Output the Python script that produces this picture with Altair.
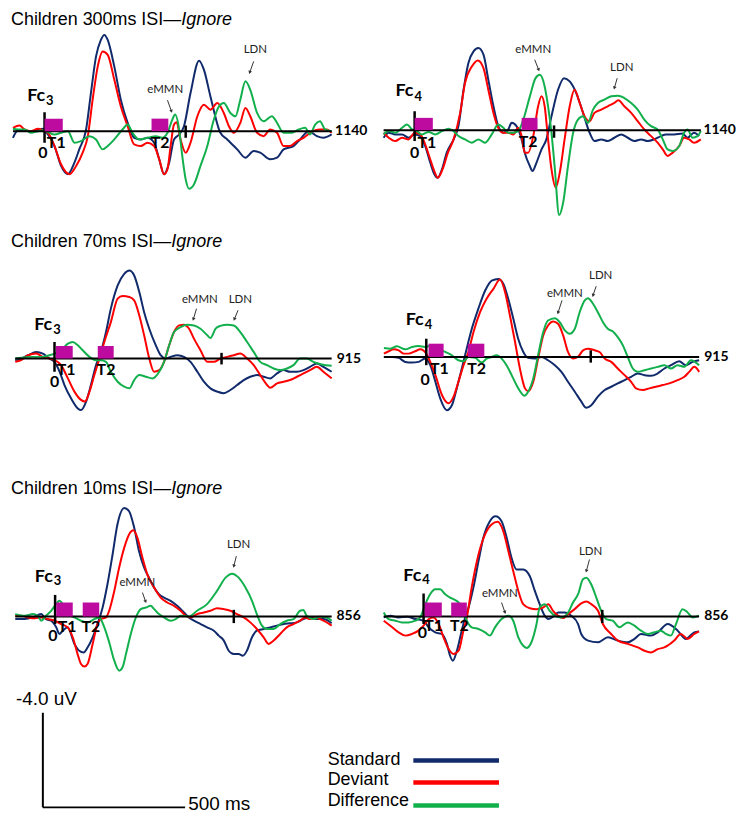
import math
import altair as alt
import pandas as pd

# ---------------- layout constants ----------------
MS_PER_PX = 3.5
PX_PER_UV = 23.75
PANEL_W = 364
SERIES = ["Standard", "Deviant", "Difference"]
COLORS = ["#102a6b", "#ff0000", "#12b04c"]
MAGENTA = "#bd0ba0"
SANS = "Liberation Sans, Arial, sans-serif"
LBL = "Lato, Carlito, sans-serif"

# ---------------- data (time ms, amplitude uV; negative plotted up) ----------------
A_std = [(-111,0.28),(-93,-0.04),(-70,-0.04),(-47,0.04),(-23,-0.04),(-6,-0.10),(12,0.14),(35,0.63),(58,1.47),(82,1.82),(105,1.33),(122,0.77),(146,-0.07),(163,-1.61),(181,-3.16),(198,-3.86),(210,-4.07),(222,-3.86),(245,-2.74),(268,-1.33),(292,-0.35),(315,0.28),(338,0.35),(362,0.28),(385,0.49),(403,1.19),(420,1.82),(438,1.33),(455,0.35),(473,0.14),(490,-0.21),(513,-1.61),(543,-2.98),(560,-2.60),(583,-1.47),(618,0.07),(642,0.35),(677,0.77),(706,1.12),(735,0.84),(758,0.91),(793,1.19),(817,1.12),(840,0.77),(875,0.63),(898,0.35),(928,0.00),(957,0.21),(980,0.28),(1009,0.14)]
A_dev = [(-111,-0.14),(-88,-0.24),(-70,-0.07),(-47,0.00),(-23,-0.10),(-6,-0.04),(12,0.07),(35,0.63),(58,1.40),(88,1.82),(111,1.47),(134,0.91),(152,0.21),(169,-1.33),(187,-2.74),(204,-3.37),(222,-3.23),(245,-2.18),(268,-1.05),(292,-0.21),(315,0.56),(338,0.63),(362,0.49),(385,0.63),(403,1.19),(420,1.82),(432,1.61),(443,0.63),(455,-0.28),(464,-0.38),(478,0.35),(496,0.91),(513,0.49),(537,-0.63),(560,-1.12),(583,-0.91),(607,-1.19),(630,-0.77),(648,-0.21),(665,0.07),(688,-0.35),(706,-0.98),(723,-0.63),(747,0.07),(770,0.21),(793,-0.07),(817,0.07),(840,0.63),(863,0.63),(887,0.42),(910,0.28),(933,0.07),(968,-0.07),(992,-0.07),(1009,0.07)]
A_diff = [(-111,-0.10),(-93,-0.07),(-70,-0.07),(-47,0.07),(-23,0.00),(-6,-0.04),(12,0.04),(35,0.14),(58,0.07),(82,0.00),(105,0.49),(128,0.42),(158,0.21),(181,0.35),(204,0.77),(222,0.63),(245,0.35),(274,-0.07),(292,-0.28),(309,0.07),(332,0.35),(362,0.28),(391,0.21),(414,0.28),(432,0.07),(449,-0.49),(459,-0.70),(473,-0.07),(484,1.05),(496,2.04),(508,2.43),(525,2.25),(548,1.47),(572,0.63),(595,-0.49),(613,-1.05),(630,-1.19),(653,-0.77),(671,-0.63),(688,-1.33),(706,-2.11),(723,-1.75),(747,-0.77),(770,-0.42),(799,-0.63),(817,-0.35),(840,0.07),(869,0.07),(893,-0.07),(916,-0.14),(933,0.14),(951,-0.28),(968,-0.42),(986,-0.07),(1009,0.00)]

B_std = [(-109,0.32),(-91,0.11),(-68,0.18),(-44,0.18),(-21,0.32),(0,0.18),(20,0.25),(37,0.67),(55,1.38),(67,1.80),(81,2.01),(96,1.66),(113,0.95),(137,0.39),(154,-0.17),(172,-1.71),(189,-2.84),(207,-3.33),(224,-3.47),(242,-3.19),(259,-2.13),(277,-1.01),(294,-0.17),(312,0.11),(329,-0.03),(341,-0.31),(358,-0.17),(376,0.39),(387,0.95),(405,1.52),(414,1.73),(428,1.38),(446,0.81),(463,0.39),(481,-0.59),(504,-1.71),(525,-2.20),(545,-2.06),(568,-1.57),(592,-0.73),(615,0.11),(632,0.46),(656,0.39),(679,0.46),(702,0.32),(726,0.18),(749,0.32),(772,0.46),(796,0.39),(819,0.46),(842,0.39),(866,0.25),(883,0.18),(912,0.18),(942,0.14),(959,0.32),(982,0.11),(1000,0.25)]
B_dev = [(-109,0.11),(-91,0.32),(-68,0.46),(-44,0.32),(-21,0.39),(0,0.11),(20,0.18),(37,0.60),(55,1.24),(69,1.73),(82,2.01),(98,1.66),(117,0.95),(137,0.39),(160,-0.73),(177,-1.99),(201,-2.69),(222,-2.95),(242,-2.62),(259,-1.71),(277,-0.73),(294,-0.10),(312,0.11),(329,0.11),(347,0.18),(364,-0.10),(376,0.25),(387,0.95),(399,0.95),(417,0.25),(434,-1.01),(446,-1.43),(457,-1.01),(469,0.39),(481,1.66),(496,2.43),(510,1.80),(527,0.39),(545,-1.01),(562,-1.71),(580,-1.15),(597,-0.59),(615,-0.38),(632,-0.73),(656,-0.87),(679,-1.01),(702,-1.15),(716,-1.26),(737,-1.01),(761,-0.73),(784,-0.38),(807,-0.03),(831,0.25),(854,0.53),(872,0.81),(889,1.09),(907,0.95),(930,0.67),(947,0.32),(965,0.39),(982,0.53),(1006,0.39)]
B_diff = [(-109,0.18),(-91,0.04),(-68,0.11),(-44,-0.10),(-27,-0.24),(-9,-0.03),(8,0.04),(26,0.18),(49,0.08),(72,0.18),(96,0.04),(119,-0.06),(137,0.04),(154,0.25),(177,0.39),(201,0.53),(224,0.39),(247,0.53),(271,0.18),(294,-0.24),(312,-0.10),(329,0.11),(347,0.11),(364,0.04),(382,-0.45),(405,-1.43),(425,-2.20),(440,-2.34),(457,-1.85),(469,-1.01),(481,0.11),(492,1.52),(508,3.59),(522,3.06),(539,1.52),(557,0.11),(574,-0.45),(592,-0.59),(609,-0.31),(627,-0.87),(644,-1.15),(667,-1.29),(691,-1.43),(714,-1.46),(737,-1.36),(761,-1.15),(784,-0.87),(807,-0.45),(831,-0.17),(854,-0.03),(872,0.39),(889,0.81),(907,0.88),(930,0.67),(947,0.11),(959,-0.03),(977,0.32),(994,0.25),(1006,0.04)]

C_std = [(-138,0.07),(-117,0.00),(-93,-0.14),(-64,-0.28),(-41,-0.21),(-18,0.00),(0,0.14),(18,0.56),(35,1.12),(58,1.68),(82,2.11),(93,2.18),(111,1.82),(128,1.12),(146,0.28),(163,-0.28),(181,-1.12),(198,-2.11),(222,-3.09),(245,-3.58),(263,-3.72),(280,-3.51),(298,-2.81),(315,-1.96),(333,-1.26),(356,-0.56),(373,-0.14),(391,0.00),(408,-0.07),(432,-0.14),(455,-0.07),(478,0.14),(502,0.56),(525,0.98),(548,1.26),(572,1.40),(595,1.47),(618,1.33),(642,1.12),(665,0.91),(688,0.77),(712,0.70),(735,0.77),(758,0.84),(782,0.63),(805,0.49),(828,0.56),(852,0.56),(875,0.49),(898,0.35),(922,0.21),(945,0.35),(974,0.56)]
C_dev = [(-138,0.14),(-117,0.07),(-93,-0.14),(-64,-0.21),(-41,-0.07),(-18,0.00),(0,0.07),(23,0.28),(47,0.84),(70,1.40),(93,1.75),(107,1.82),(123,1.40),(140,0.70),(158,0.00),(175,-0.70),(198,-1.54),(222,-2.53),(239,-2.64),(263,-2.60),(280,-2.46),(298,-1.82),(315,-0.98),(333,0.00),(350,0.56),(368,0.49),(385,0.14),(403,-0.56),(420,-1.12),(438,-1.40),(455,-1.43),(473,-1.26),(490,-0.84),(513,-0.35),(537,0.14),(560,0.14),(583,0.00),(607,-0.07),(630,-0.14),(653,-0.21),(677,0.00),(700,0.28),(723,0.70),(747,1.12),(758,1.24),(782,1.05),(805,0.98),(828,0.91),(852,0.77),(875,0.63),(898,0.49),(922,0.35),(945,0.56),(974,0.84)]
C_diff = [(-138,0.00),(-117,-0.03),(-93,-0.07),(-70,-0.07),(-41,-0.07),(-18,-0.14),(0,-0.21),(23,-0.35),(47,-0.63),(64,-0.70),(82,-0.56),(99,-0.35),(123,-0.07),(146,0.07),(163,0.07),(181,0.14),(198,0.56),(222,0.98),(245,1.19),(263,1.26),(280,0.91),(298,0.70),(321,0.77),(344,0.84),(368,0.56),(385,0.14),(403,-0.56),(420,-1.12),(443,-1.33),(467,-1.43),(490,-1.40),(513,-1.26),(537,-0.98),(548,-0.87),(566,-1.26),(583,-1.38),(607,-1.43),(630,-1.40),(653,-1.12),(677,-0.70),(700,-0.28),(723,0.14),(747,0.28),(770,0.42),(793,0.49),(817,0.42),(840,0.28),(863,0.00),(887,0.00),(910,0.14),(939,0.25),(974,0.31)]

D_std = [(-149,0.00),(-120,0.00),(-97,0.04),(-74,0.21),(-50,0.24),(-27,0.21),(-4,0.07),(14,0.35),(32,1.05),(49,1.75),(72,2.25),(90,2.04),(107,1.33),(125,0.49),(142,-0.35),(160,-1.19),(183,-2.04),(207,-2.81),(230,-3.23),(253,-3.30),(271,-3.09),(288,-2.46),(306,-1.61),(323,-0.77),(341,-0.21),(358,0.04),(382,0.07),(405,0.00),(428,0.14),(452,0.35),(475,0.63),(498,1.05),(522,1.47),(545,1.89),(562,2.15),(580,2.04),(603,1.68),(627,1.40),(650,1.26),(673,1.12),(697,0.98),(720,0.84),(743,0.70),(767,0.77),(790,0.80),(813,0.70),(837,0.49),(860,0.35),(889,0.18),(912,0.35),(936,0.21),(959,0.14)]
D_dev = [(-149,-0.14),(-132,-0.24),(-114,-0.32),(-97,-0.28),(-79,-0.14),(-62,-0.14),(-39,-0.24),(-21,-0.32),(0,-0.14),(14,0.21),(32,0.77),(55,1.61),(78,1.96),(96,1.68),(113,1.05),(131,0.35),(148,-0.21),(166,-1.05),(189,-1.89),(212,-2.46),(236,-2.88),(259,-3.27),(277,-2.74),(294,-1.75),(312,-0.63),(329,0.49),(347,1.33),(358,1.45),(376,1.05),(393,0.07),(411,-0.91),(428,-1.33),(446,-1.50),(463,-1.40),(481,-0.91),(498,-0.21),(516,0.07),(533,0.00),(551,-0.28),(568,-0.35),(592,-0.28),(609,-0.21),(627,0.07),(650,0.21),(673,0.49),(697,0.77),(720,1.05),(737,1.33),(761,1.40),(784,1.33),(807,1.26),(831,1.19),(854,1.12),(883,0.98),(907,0.84),(924,0.63),(942,0.42),(959,0.63)]
D_diff = [(-149,-0.38),(-126,-0.35),(-103,-0.45),(-74,-0.32),(-50,-0.42),(-27,-0.46),(-4,-0.42),(20,-0.49),(43,-0.35),(67,-0.21),(90,-0.07),(113,0.14),(131,0.18),(148,0.00),(172,0.04),(195,0.24),(212,0.07),(230,0.00),(247,-0.07),(265,0.07),(282,0.35),(300,0.77),(317,1.19),(335,1.54),(344,1.64),(358,1.47),(376,0.91),(393,-0.07),(411,-1.05),(428,-1.54),(452,-1.64),(469,-1.47),(487,-1.12),(504,-0.98),(522,-1.19),(539,-1.89),(557,-2.39),(568,-2.48),(586,-2.25),(603,-1.89),(621,-1.47),(638,-1.19),(656,-1.08),(673,-0.84),(691,-0.49),(708,0.00),(726,0.49),(743,0.63),(767,0.56),(790,0.49),(813,0.42),(837,0.35),(860,0.49),(883,0.35),(907,0.42),(930,0.14),(959,0.35)]

E_std = [(-140,0.11),(-107,0.11),(-78,0.04),(-49,-0.10),(-32,0.11),(-14,0.18),(4,0.46),(15,0.74),(27,0.60),(44,0.46),(68,1.16),(85,1.45),(100,1.52),(114,1.31),(132,0.88),(149,0.32),(167,-0.38),(184,-1.36),(202,-2.62),(219,-3.89),(243,-4.59),(260,-4.45),(278,-3.75),(295,-2.76),(313,-2.06),(330,-1.64),(348,-1.22),(365,-0.94),(383,-0.80),(406,-0.66),(429,-0.45),(453,-0.17),(470,0.04),(488,0.18),(511,0.32),(534,0.46),(558,0.60),(575,0.81),(593,1.02),(610,1.45),(628,1.59),(645,1.59),(660,1.66),(674,1.45),(692,0.88),(709,0.60),(733,0.53),(756,0.46),(779,0.39),(803,0.32),(826,0.29),(849,0.25),(873,0.11),(896,0.04),(919,0.11),(943,0.11),(972,0.29)]
E_dev = [(-140,-0.03),(-119,-0.03),(-96,0.04),(-72,0.08),(-49,0.04),(-26,0.11),(-2,0.18),(21,0.32),(44,0.46),(62,0.88),(79,1.59),(91,2.01),(103,2.12),(114,2.01),(132,1.16),(149,0.32),(161,0.11),(179,0.04),(190,-0.24),(208,-1.08),(225,-2.06),(243,-2.91),(260,-3.47),(275,-3.64),(289,-3.33),(307,-2.48),(324,-1.78),(348,-1.22),(371,-0.80),(394,-0.59),(418,-0.45),(441,-0.24),(459,-0.03),(476,0.04),(499,-0.10),(523,-0.17),(546,-0.24),(569,-0.35),(593,-0.31),(616,-0.24),(639,-0.10),(663,0.04),(686,0.25),(709,0.53),(733,0.88),(750,1.16),(768,1.02),(791,0.74),(814,0.46),(838,0.32),(861,0.18),(879,0.04),(896,0.11),(919,0.07),(943,0.18),(972,0.39)]
E_diff = [(-140,-0.10),(-107,-0.03),(-78,-0.10),(-61,-0.03),(-49,0.18),(-32,-0.03),(-14,-0.24),(4,-0.52),(15,-0.66),(27,-0.52),(44,-0.10),(68,0.04),(91,0.18),(114,0.25),(138,0.11),(155,0.04),(173,0.46),(190,1.09),(208,1.87),(225,2.29),(237,2.15),(249,1.59),(266,0.74),(284,0.04),(301,-0.31),(319,-0.38),(336,-0.45),(348,-0.31),(365,-0.10),(383,0.04),(406,0.18),(424,0.11),(441,-0.03),(470,0.00),(499,-0.24),(534,-0.52),(569,-1.08),(599,-1.64),(622,-1.81),(645,-1.64),(669,-1.22),(692,-0.66),(709,-0.10),(727,0.39),(744,0.53),(768,0.53),(791,0.32),(814,0.18),(838,0.11),(861,-0.24),(873,-0.27),(884,-0.03),(908,0.11),(931,0.01),(954,0.04),(972,0.18)]

F_std = [(-140,0.04),(-117,-0.03),(-88,0.04),(-58,0.01),(-29,0.11),(0,0.18),(18,0.46),(41,0.67),(64,0.74),(82,1.16),(93,1.66),(103,1.87),(117,1.45),(134,0.60),(146,0.04),(158,-0.38),(175,-1.22),(193,-2.34),(210,-3.33),(233,-4.03),(253,-4.24),(274,-4.03),(292,-3.33),(309,-2.48),(327,-1.99),(350,-1.99),(373,-1.71),(391,-1.08),(408,-0.52),(426,-0.03),(438,0.11),(455,0.01),(473,-0.17),(496,-0.17),(519,-0.03),(543,0.32),(554,0.74),(578,1.02),(613,1.09),(648,0.88),(683,1.02),(718,1.09),(741,0.95),(764,0.74),(799,0.81),(823,0.67),(858,0.32),(893,0.60),(922,0.95),(951,0.67),(968,0.63)]
F_dev = [(-140,0.18),(-117,0.39),(-88,0.67),(-64,0.81),(-41,0.74),(-18,0.60),(0,0.39),(18,0.11),(35,0.04),(53,0.32),(70,0.88),(88,1.38),(105,1.59),(123,1.45),(140,0.60),(152,0.04),(169,-1.22),(193,-2.62),(216,-3.47),(239,-3.89),(260,-4.00),(280,-3.61),(298,-2.76),(315,-1.92),(333,-1.08),(350,-0.52),(373,-0.35),(397,-0.31),(420,-0.38),(438,-0.52),(455,-0.24),(473,-0.03),(490,0.07),(508,-0.10),(531,-0.31),(554,-0.55),(572,-0.63),(589,-0.52),(613,-0.24),(630,0.32),(659,0.74),(683,1.02),(718,1.16),(753,1.31),(776,1.45),(799,1.52),(823,1.38),(846,1.31),(881,1.02),(904,0.74),(928,0.95),(951,0.74),(968,0.63)]
F_diff = [(-140,-0.17),(-123,0.11),(-99,0.18),(-76,0.25),(-53,0.25),(-29,0.18),(-12,0.04),(6,-0.52),(23,-0.94),(41,-1.15),(58,-1.15),(76,-0.94),(93,-0.80),(105,-0.73),(123,-0.59),(140,-0.24),(152,0.18),(169,0.46),(193,0.53),(216,0.67),(233,0.81),(251,0.46),(274,0.11),(298,-0.03),(315,0.18),(333,0.88),(350,1.24),(362,1.33),(379,1.09),(397,0.32),(408,-0.38),(426,-0.52),(443,-0.24),(461,-0.03),(484,0.04),(508,-0.17),(525,-0.59),(543,-0.94),(560,-1.57),(572,-1.64),(589,-1.36),(607,-0.80),(624,-0.24),(642,0.11),(665,0.18),(688,0.46),(718,0.25),(741,0.39),(764,0.60),(788,0.74),(811,0.67),(834,0.60),(852,0.74),(869,0.81),(887,0.32),(910,-0.31),(928,-0.17),(945,0.04),(968,-0.03)]

# scale bar values
SCALE_MS = 500
SCALE_UV = -4.0

# ---------------- panel descriptions ----------------
PANELS = [
    dict(title="Children 300ms ISI\u2014", tw=171, ty=15, elec="3", h=215, zero_x=33.7, base_y=122, data=(A_std, A_dev, A_diff),
         rng=(-111, 1009), zero=(-0.80, 0.49), tick=(496, -0.24, 0.28), rects=[(0, 64), (376, 435)], rtop=-0.53,
         labs=[(-6, 0.91, "0"), (41, 0.52, "T1"), (406, 0.52, "T2")], end=(1021, "1140"),
         fc=(2, -1.26, -1.10), comps=[("eMMN", 424, -1.75, 432, -1.31, 446, -0.84), ("LDN", 741, -3.44, 735, -2.95, 721, -2.48)]),
    dict(title=None, elec="4", h=215, zero_x=41.3, base_y=121, data=(B_std, B_dev, B_diff),
         rng=(-109, 1006), zero=(-0.80, 0.46), tick=(490, -0.20, 0.32), rects=[(0, 64), (376, 432)], rtop=-0.52,
         labs=[(0, 0.95, "0"), (43, 0.56, "T1"), (399, 0.50, "T2")], end=(1015, "1140"),
         fc=(-4, -1.43, -1.22), comps=[("eMMN", 417, -3.40, 422, -2.98, 436, -2.55), ("LDN", 728, -2.62, 712, -2.20, 702, -1.78)]),
    dict(title="Children 70ms ISI\u2014", tw=161, ty=23, elec="3", h=240, zero_x=43.7, base_y=135.3, data=(C_std, C_dev, C_diff),
         rng=(-138, 974), zero=(-0.70, 0.56), tick=(587, -0.24, 0.25), rects=[(5, 64), (152, 208)], rtop=-0.53,
         labs=[(0, 0.98, "0"), (41, 0.49, "T1"), (181, 0.49, "T2")], end=(992, "915"),
         fc=(-8, -1.19, -1.05), comps=[("eMMN", 511, -2.46, 499, -2.11, 488, -1.66), ("LDN", 653, -2.46, 645, -2.04, 632, -1.66)]),
    dict(title=None, elec="4", h=240, zero_x=53.0, base_y=133.7, data=(D_std, D_dev, D_diff),
         rng=(-149, 959), zero=(-0.77, 0.35), tick=(578, -0.28, 0.24), rects=[(8, 61), (146, 204)], rtop=-0.56,
         labs=[(-4, 0.98, "0"), (46, 0.52, "T1"), (177, 0.52, "T2")], end=(977, "915"),
         fc=(-9, -1.33, -1.20), comps=[("eMMN", 487, -2.67, 477, -2.39, 463, -1.87), ("LDN", 613, -3.44, 597, -2.99, 586, -2.60)]),
    dict(title="Children 10ms ISI\u2014", tw=161, ty=31, elec="3", h=220, zero_x=44.3, base_y=154.3, data=(E_std, E_dev, E_diff),
         rng=(-140, 972), zero=(-0.91, 0.32), tick=(628, -0.28, 0.28), rects=[(4, 62), (97, 155)], rtop=-0.59,
         labs=[(-8, 0.81, "0"), (42, 0.46, "T1"), (126, 0.46, "T2")], end=(989, "856"),
         fc=(-8, -1.47, -1.33), comps=[("eMMN", 289, -1.40, 307, -1.01, 318, -0.63), ("LDN", 645, -3.02, 637, -2.55, 628, -2.13)]),
    dict(title=None, elec="4", h=220, zero_x=50.3, base_y=154.3, data=(F_std, F_dev, F_diff),
         rng=(-140, 968), zero=(-0.97, 0.32), tick=(628, -0.28, 0.28), rects=[(4, 64), (97, 152)], rtop=-0.59,
         labs=[(-4, 0.68, "0"), (35, 0.39, "T1"), (126, 0.39, "T2")], end=(986, "856"),
         fc=(-8, -1.50, -1.36), comps=[("eMMN", 268, -0.94, 274, -0.59, 286, -0.17), ("LDN", 587, -2.74, 583, -2.41, 572, -1.92)]),
]


def panel(p):
    h = p["h"]
    xs = alt.Scale(domain=[-p["zero_x"] * MS_PER_PX, (PANEL_W - p["zero_x"]) * MS_PER_PX], nice=False, zero=False)
    ys = alt.Scale(domain=[-p["base_y"] / PX_PER_UV, (h - p["base_y"]) / PX_PER_UV], reverse=True, nice=False, zero=False)
    X = lambda f: alt.X(f, scale=xs, axis=None)
    Y = lambda f: alt.Y(f, scale=ys, axis=None)
    layers = []

    # waveforms
    for series, col in zip(p["data"], COLORS):
        df = pd.DataFrame(series, columns=["t", "v"])
        layers.append(alt.Chart(df).mark_line(color=col, strokeWidth=2, interpolate="monotone").encode(x=X("t:Q"), y=Y("v:Q")))

    # baseline
    bdf = pd.DataFrame({"t0": [p["rng"][0]], "t1": [p["rng"][1]], "v": [0.0]})
    layers.append(alt.Chart(bdf).mark_rule(color="black", strokeWidth=2).encode(x=X("t0:Q"), x2="t1:Q", y=Y("v:Q")))
    # zero line
    zdf = pd.DataFrame({"t": [0.0], "v0": [p["zero"][0]], "v1": [p["zero"][1]]})
    layers.append(alt.Chart(zdf).mark_rule(color="black", strokeWidth=2.5).encode(x=X("t:Q"), y=Y("v0:Q"), y2="v1:Q"))
    # end tick
    tdf = pd.DataFrame({"t": [p["tick"][0]], "v0": [p["tick"][1]], "v1": [p["tick"][2]]})
    layers.append(alt.Chart(tdf).mark_rule(color="black", strokeWidth=2.5).encode(x=X("t:Q"), y=Y("v0:Q"), y2="v1:Q"))
    # stimulus squares
    rdf = pd.DataFrame({"t0": [r[0] for r in p["rects"]], "t1": [r[1] for r in p["rects"]],
                        "vt": [p["rtop"]] * len(p["rects"]), "vb": [0.0] * len(p["rects"])})
    layers.append(alt.Chart(rdf).mark_rect(color=MAGENTA).encode(x=X("t0:Q"), x2="t1:Q", y=Y("vt:Q"), y2="vb:Q"))

    # 0 / T1 / T2 labels
    ldf = pd.DataFrame(p["labs"], columns=["t", "v", "s"])
    layers.append(alt.Chart(ldf).mark_text(font=LBL, fontWeight="bold", fontSize=16, baseline="middle", color="black")
                  .encode(x=X("t:Q"), y=Y("v:Q"), text="s:N"))
    # epoch length label
    edf = pd.DataFrame({"t": [p["end"][0]], "v": [0.0], "s": [p["end"][1]]})
    layers.append(alt.Chart(edf).mark_text(font=LBL, fontWeight="bold", fontSize=14, align="left", baseline="middle", color="black")
                  .encode(x=X("t:Q"), y=Y("v:Q"), text="s:N"))
    # electrode label Fc + subscript
    fdf = pd.DataFrame({"t": [p["fc"][0]], "v": [p["fc"][1]], "v2": [p["fc"][2]], "s": ["Fc"], "sub": [p["elec"]]})
    layers.append(alt.Chart(fdf).mark_text(font=LBL, fontWeight="bold", fontSize=18, align="right", baseline="alphabetic", color="black")
                  .encode(x=X("t:Q"), y=Y("v:Q"), text="s:N"))
    layers.append(alt.Chart(fdf).mark_text(font=LBL, fontWeight="bold", fontSize=13, align="left", baseline="alphabetic", color="black", dx=1)
                  .encode(x=X("t:Q"), y=Y("v2:Q"), text="sub:N"))

    # component annotations with arrows
    rows = []
    for name, tt, tv, a0t, a0v, a1t, a1v in p["comps"]:
        dx = (a1t - a0t) / MS_PER_PX
        dy = (a1v - a0v) * PX_PER_UV
        ang = math.degrees(math.atan2(dx, -dy)) % 360
        rows.append(dict(s=name, tt=tt, tv=tv, a0t=a0t, a0v=a0v, a1t=a1t, a1v=a1v, ang=ang))
    cdf = pd.DataFrame(rows)
    layers.append(alt.Chart(cdf).mark_text(font=LBL, fontSize=11.5, baseline="middle", color="#222")
                  .encode(x=X("tt:Q"), y=Y("tv:Q"), text="s:N"))
    layers.append(alt.Chart(cdf).mark_rule(color="#333", strokeWidth=1)
                  .encode(x=X("a0t:Q"), x2="a1t:Q", y=Y("a0v:Q"), y2="a1v:Q"))
    layers.append(alt.Chart(cdf).mark_point(shape="triangle-up", filled=True, size=14, color="#333", opacity=1)
                  .encode(x=X("a1t:Q"), y=Y("a1v:Q"), angle=alt.Angle("ang:Q", scale=None)))

    # row title
    if p["title"]:
        one = pd.DataFrame({"k": [0]})
        layers.append(alt.Chart(one).mark_text(font=SANS, fontSize=18, align="left", baseline="alphabetic", color="black")
                      .encode(x=alt.value(0), y=alt.value(p["ty"]), text=alt.value(p["title"])))
        layers.append(alt.Chart(one).mark_text(font=SANS, fontSize=18, fontStyle="italic", align="left", baseline="alphabetic", color="black")
                      .encode(x=alt.value(p["tw"]), y=alt.value(p["ty"]), text=alt.value("Ignore")))

    return alt.layer(*layers).properties(width=PANEL_W, height=h)


def bottom():
    W, H = 2 * PANEL_W, 137
    x0, yb = 32, 126
    xs = alt.Scale(domain=[-x0 * MS_PER_PX, (W - x0) * MS_PER_PX], nice=False, zero=False)
    ys = alt.Scale(domain=[-yb / PX_PER_UV, (H - yb) / PX_PER_UV], reverse=True, nice=False, zero=False)
    sdf = pd.DataFrame({"t0": [0], "t1": [SCALE_MS], "v0": [0.0], "v1": [SCALE_UV]})
    layers = [
        alt.Chart(sdf).mark_rule(color="black", strokeWidth=2).encode(
            x=alt.X("t0:Q", scale=xs, axis=None), y=alt.Y("v0:Q", scale=ys, axis=None), y2="v1:Q"),
        alt.Chart(sdf).mark_rule(color="black", strokeWidth=2).encode(
            x=alt.X("t0:Q", scale=xs, axis=None), x2="t1:Q", y=alt.Y("v0:Q", scale=ys, axis=None)),
    ]
    one = pd.DataFrame({"k": [0]})
    layers.append(alt.Chart(one).mark_text(font=SANS, fontSize=19, align="left", baseline="middle", color="black")
                  .encode(x=alt.value(5), y=alt.value(17), text=alt.value(f"{SCALE_UV:.1f} uV")))
    layers.append(alt.Chart(one).mark_text(font=SANS, fontSize=19, align="left", baseline="middle", color="black")
                  .encode(x=alt.value(178), y=alt.value(123), text=alt.value(f"{SCALE_MS} ms")))
    # legend
    ty = [78, 99, 119.5]
    ly = [79, 101, 124]
    for name, col, a, b in zip(SERIES, COLORS, ty, ly):
        layers.append(alt.Chart(one).mark_text(font=SANS, fontSize=18, align="left", baseline="middle", color="black")
                      .encode(x=alt.value(318), y=alt.value(a), text=alt.value(name)))
        layers.append(alt.Chart(one).mark_rule(color=col, strokeWidth=4.5)
                      .encode(x=alt.value(404), x2=alt.value(490), y=alt.value(b)))
    return alt.layer(*layers).properties(width=W, height=H)


rows = []
for i in range(0, 6, 2):
    rows.append(alt.hconcat(panel(PANELS[i]), panel(PANELS[i + 1]), spacing=0, bounds="flush"))
rows.append(bottom())

chart = alt.vconcat(*rows, spacing=0).properties(padding=0).configure_view(stroke=None)
chart.save("out.html", embed_options={"renderer": "svg", "actions": False})
